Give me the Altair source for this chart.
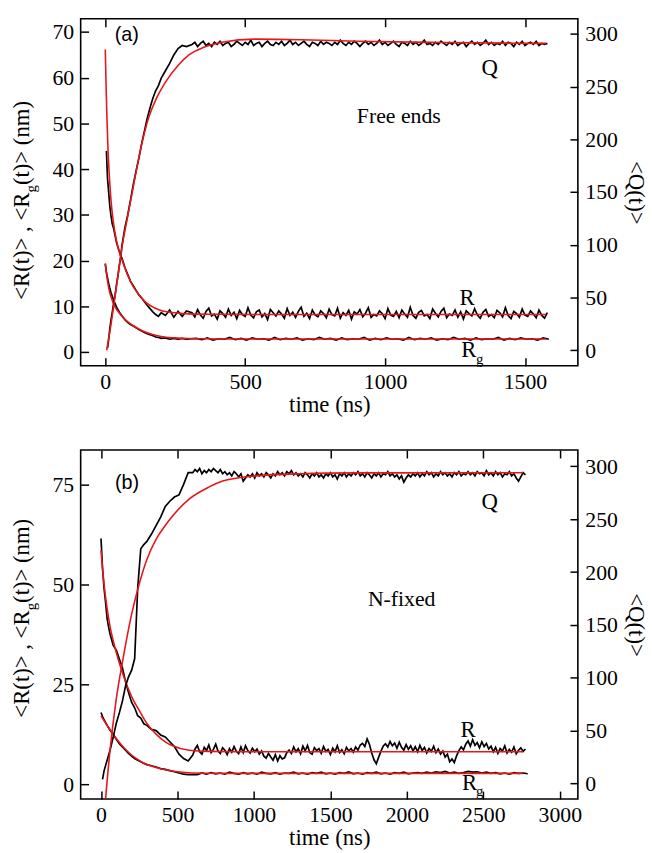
import altair as alt
import pandas as pd

SERIF = "Liberation Serif"
SANS = "Liberation Sans"
RED = "#e8161b"

# ---------------- Panel (a): Free ends ----------------
A_T_EARLY = [0, 4, 8, 12, 16, 20, 25, 30, 35, 40, 45, 50, 55, 60, 70, 80, 90, 100, 110, 120,
             130, 140, 150, 160, 170, 180, 190, 200, 215, 230, 245, 260, 275, 290]
A_Q_EARLY = [None, None, 2, 10, 20, 28, 36, 45, 52, 62, 70, 80, 88, 100, 116, 128, 142, 157, 170, 182,
             196, 208, 220, 230, 239, 246, 251, 258, 265, 272, 280, 286, 289, 288]
A_R_EARLY = [None, 44, 38, 35, 32, 30, 28, 27, 25.5, 24, 23, 22, 21, 20.5, 18.5, 17, 15.5, 14.5, 13.5, 12.5,
             11.8, 11, 10.2, 9.5, 8.8, 8.2, 7.8, 8.6, 8.0, 9.2, 7.6, 8.9, 7.8, 9.0]
A_RG_EARLY = [19.3, 17.5, 16.2, 15.0, 14.0, 13.1, 12.2, 11.3, 10.6, 9.9, 9.3, 8.8, 8.3, 7.9, 7.1, 6.5, 6.0, 5.7, 5.3, 4.9,
              4.6, 4.3, 4.0, 3.8, 3.6, 3.3, 3.2, 3.0, 3.1, 2.8, 3.0, 2.8, 3.0, 2.8]
# plateau samples: (start, step) of the time grid, then values
A_Q_LATE_GRID = (300, 10)
A_Q_LATE = [290, 292, 288, 291, 293, 289, 291, 288, 292, 290,
            293, 289, 291, 292, 288, 290, 293, 291, 289, 292,
            290, 294, 289, 291, 292, 288, 291, 293, 290, 289,
            292, 290, 293, 289, 291, 294, 290, 292, 289, 291,
            293, 290, 288, 292, 291, 289, 293, 290, 292, 291,
            289, 292, 290, 294, 291, 289, 292, 290, 293, 291,
            288, 291, 293, 290, 292, 289, 291, 294, 290, 292,
            289, 291, 293, 290, 288, 292, 291, 289, 293, 290,
            292, 289, 291, 294, 290, 291, 289, 292, 290, 293,
            291, 289, 292, 290, 293, 289, 291, 292, 288, 291,
            293, 290, 292, 289, 291, 294, 290, 292, 289, 291,
            290, 293, 289, 292, 291, 288, 292, 290, 293, 289,
            291, 292, 290, 293, 289, 291, 290, 291]
A_R_LATE_GRID = (300, 10)
A_R_LATE = [8.6, 7.7, 9.3, 8.1, 7.4, 8.9, 9.6, 7.9, 8.3, 7.2,
            9.0, 8.4, 7.6, 9.4, 8.0, 8.7, 7.3, 9.1, 8.2, 7.8,
            9.7, 8.1, 7.5, 8.8, 9.2, 7.7, 8.4, 7.1, 9.3, 8.6,
            7.9, 9.0, 8.3, 7.4, 9.5, 8.0, 8.7, 7.6, 8.9, 9.8,
            7.8, 8.5, 7.3, 9.2, 8.1, 7.7, 9.0, 8.4, 7.5, 9.4,
            8.2, 7.9, 9.6, 7.4, 8.6, 8.0, 9.1, 7.2, 8.8, 8.3,
            9.3, 7.7, 8.5, 9.7, 7.6, 8.2, 7.9, 9.0, 8.4, 7.3,
            9.5, 8.1, 7.8, 8.9, 7.5, 9.2, 8.3, 7.6, 9.8, 8.0,
            7.4, 8.7, 9.1, 7.9, 8.2, 7.3, 9.4, 8.5, 7.7, 8.9,
            9.6, 7.5, 8.3, 8.0, 9.2, 7.6, 8.8, 7.2, 9.0, 8.4,
            7.9, 9.5, 8.1, 7.4, 8.7, 9.3, 7.8, 8.2, 7.5, 9.1,
            8.6, 7.7, 9.7, 8.0, 7.3, 8.9, 8.4, 7.6, 9.4, 8.1,
            7.8, 9.0, 8.3, 7.5, 9.2, 8.0, 7.4, 8.6]
A_RG_LATE_GRID = (305, 20)
A_RG_LATE = [3.0, 2.7, 3.1, 2.6, 2.9, 2.8, 3.2, 2.7, 3.0, 2.6,
             3.1, 2.8, 2.9, 2.6, 3.2, 2.7, 3.0, 2.8, 3.1, 2.6,
             2.9, 2.7, 3.2, 2.8, 3.0, 2.6, 3.1, 2.7, 2.9, 2.8,
             3.2, 2.6, 3.0, 2.7, 3.1, 2.8, 2.9, 2.6, 3.2, 2.7,
             3.0, 2.8, 3.1, 2.6, 2.9, 2.7, 3.2, 2.8, 3.0, 2.6,
             3.1, 2.7, 2.9, 2.8, 3.2, 2.6, 3.0, 2.7, 3.1, 2.8,
             2.9, 2.6, 3.1, 2.8]
# fitted curves (red)
A_FIT_R_T = [0, 3, 6, 10, 15, 20, 28, 40, 58, 80, 100, 125, 146, 175, 205, 250, 300, 400, 700, 1575]
A_FIT_R = [66.2, 58, 51, 44, 38, 33.5, 28.8, 24.3, 20.5, 16.8, 14.3, 12.2, 10.8, 9.7, 9.0, 8.6, 8.35, 8.25, 8.2, 8.2]
A_FIT_RG_T = [0, 5, 10, 16, 25, 35, 52, 75, 99, 130, 160, 200, 250, 300, 400, 1575]
A_FIT_RG = [19.4, 16.8, 14.8, 13.0, 11.3, 9.9, 8.4, 6.9, 5.8, 4.7, 4.0, 3.4, 3.1, 2.95, 2.85, 2.85]
A_FIT_Q_T = [5, 10, 16, 30, 45, 58, 80, 100, 125, 152, 185, 217, 260, 299, 350, 417, 535, 700, 900, 1200, 1575]
A_FIT_Q = [0, 8, 17, 42, 70, 95, 127, 155, 189, 218, 240, 255, 270, 280, 287, 292, 295, 294.5, 293, 291.8, 291]

# ---------------- Panel (b): N-fixed ----------------
B_T_EARLY = [0, 10, 20, 30, 40, 50, 60, 80, 100, 120, 140, 160, 180, 200, 220, 240, 260, 280, 300, 330,
             360, 390, 420, 450, 480, 510, 540, 570]
B_Q_EARLY = [None, 4, 12, 17, 22, 27, 32, 44, 57, 67, 78, 92, 101, 107, 118, 185, 222, 226, 229, 236,
             244, 252, 262, 267, 271, 273, 283, 294]
B_R_EARLY = [61.5, 54, 49, 45.5, 41.5, 39.3, 37.5, 34.8, 33.6, 31.4, 29.2, 25.8, 23.0, 20.6, 19.2, 17.2, 16.6, 15.2, 14.8, 13.8,
             13.5, 12.4, 11.9, 10.7, 9.5, 7.6, 6.5, 5.9]
B_RG_EARLY = [18, 17, 16.2, 15.5, 14.8, 14.2, 13.6, 12.5, 11.3, 10.2, 9.4, 8.6, 7.8, 7.1, 6.5, 6.1, 5.7, 5.3, 5.0, 4.7,
              4.4, 4.0, 3.8, 3.5, 3.2, 2.9, 2.6, 2.5]
B_Q_LATE_GRID = (585, 15)
B_Q_LATE = [294, 297, 295, 298, 293, 296, 294, 297, 295, 298,
            296, 294, 297, 293, 295, 292, 294, 291, 295, 293,
            290, 293, 286, 289, 292, 290, 293, 289, 294, 291,
            293, 290, 294, 292, 289, 293, 291, 295, 292, 294,
            291, 295, 293, 296, 292, 294, 291, 293, 290, 294,
            292, 289, 293, 291, 294, 290, 292, 289, 293, 291,
            294, 290, 292, 288, 293, 291, 294, 290, 293, 291,
            294, 292, 295, 291, 293, 290, 294, 292, 289, 293,
            291, 294, 290, 293, 292, 295, 291, 293, 290, 292,
            288, 291, 285, 289, 292, 290, 293, 291, 294, 290,
            293, 291, 295, 292, 294, 290, 293, 291, 295, 292,
            294, 291, 293, 290, 294, 292, 295, 291, 293, 292,
            295, 292, 294, 291, 295, 293, 294, 291, 296, 292,
            294, 291, 295, 292, 294, 290, 293, 292, 295, 291,
            293, 289, 286, 290, 294, 292]
B_R_LATE_GRID = (585, 15)
B_R_LATE = [7.4, 8.9, 9.8, 8.2, 7.6, 9.3, 8.5, 9.9, 8.0, 8.8,
            10.1, 8.4, 7.8, 9.2, 8.6, 7.5, 9.0, 8.1, 9.5, 8.3,
            7.7, 9.4, 8.0, 9.7, 8.5, 7.9, 9.1, 8.2, 8.9, 7.6,
            8.4, 7.1, 6.6, 7.8, 6.9, 6.1, 7.5, 5.9, 7.2, 6.4,
            6.7, 8.0, 8.6, 7.8, 9.4, 8.2, 9.0, 7.7, 9.6, 8.4,
            9.8, 8.0, 7.6, 9.2, 8.5, 9.0, 7.8, 9.5, 8.3, 8.8,
            7.5, 9.1, 8.2, 9.7, 8.0, 8.7, 7.7, 9.3, 8.4, 9.0,
            8.1, 9.4, 8.6, 9.9, 10.3, 9.5, 11.4, 10.1, 7.9, 6.2,
            5.2, 6.8, 8.3, 9.6, 10.2, 9.4, 10.8, 9.7, 10.4, 9.1,
            10.6, 9.3, 8.6, 10.0, 8.8, 9.7, 8.4, 9.5, 8.2, 9.8,
            8.5, 9.3, 7.9, 9.0, 8.3, 9.6, 8.0, 8.9, 7.6, 8.4,
            6.9, 7.6, 5.7, 6.4, 5.5, 7.2, 8.5, 9.4, 8.7, 10.1,
            10.9, 9.6, 11.2, 9.8, 10.5, 9.2, 10.7, 9.5, 10.3, 8.9,
            9.6, 8.2, 9.3, 7.8, 9.0, 8.4, 9.7, 7.9, 8.8, 8.1,
            9.4, 7.7, 8.6, 9.2, 8.3, 8.9]
B_RG_LATE_GRID = (600, 30)
B_RG_LATE = [2.5, 2.9, 2.6, 3.0, 2.7, 2.9, 2.6, 3.1, 2.8, 2.6,
             3.0, 2.7, 2.9, 2.6, 3.1, 2.8, 2.7, 3.0, 2.6, 2.9,
             2.8, 3.1, 2.7, 2.9, 2.6, 3.0, 2.8, 3.1, 2.7, 2.9,
             2.6, 3.0, 2.8, 3.2, 2.7, 2.9, 2.6, 3.0, 2.8, 3.1,
             2.7, 2.9, 2.6, 3.0, 2.8, 3.1, 2.7, 2.9, 3.0, 2.8,
             3.1, 2.9, 3.2, 3.0, 3.3, 2.9, 3.1, 2.8, 3.0, 3.3,
             3.1, 3.2, 2.9, 3.1, 2.8, 3.0, 2.7, 2.9, 2.6, 3.0,
             2.8, 2.9, 2.7]
B_FIT_R_T = [0, 20, 40, 58, 100, 144, 200, 252, 300, 360, 420, 468, 576, 700, 1000, 2760]
B_FIT_R = [58.5, 50, 44, 39.8, 33, 27.5, 22, 18.4, 15.3, 12.6, 10.7, 9.7, 8.6, 8.3, 8.2, 8.2]
B_FIT_RG_T = [0, 50, 100, 150, 200, 252, 300, 360, 420, 500, 600, 800, 2760]
B_FIT_RG = [17.2, 14.2, 11.5, 9.2, 7.4, 6.0, 5.0, 4.3, 3.7, 3.2, 2.9, 2.8, 2.8]
B_FIT_Q_T = [20, 30, 58, 100, 144, 200, 252, 300, 360, 420, 468, 576, 700, 791, 1007, 1300, 1700, 2760]
B_FIT_Q = [-35, -15, 30, 80, 118, 160, 190, 212, 231, 244, 253, 269, 280, 286, 291, 293, 293.8, 294]

# ---------------- axes ----------------
A_XDOM, A_YDOM, A_QDOM = [-88, 1689], [-3.0, 72.9], [-14.7, 314.3]
B_XDOM, B_YDOM, B_QDOM = [-133, 3118], [-3.6, 83.6], [-14.6, 315.4]
A_XTICKS = [0, 500, 1000, 1500]
B_XTICKS = [0, 500, 1000, 1500, 2000, 2500, 3000]
A_YTICKS = [0, 10, 20, 30, 40, 50, 60, 70]
B_YTICKS = [0, 25, 50, 75]
Q_TICKS = [0, 50, 100, 150, 200, 250, 300]

# ---------------- annotations ----------------
A_LABELS_C = (["Q", "Free ends", "R"], [1374, 1049, 1293], [60.5, 50.1, 10.4], [23, 22, 23])
B_LABELS_C = (["Q", "N-fixed", "R"], [2542, 1966, 2400], [68.8, 44.6, 12.0], [23, 22, 23])
A_RG_LABEL = ([1272, 1325], [-1.1, -2.6])
B_RG_LABEL = ([2361, 2452], [-1.3, -2.8])
A_TAG = ("(a)", 34, 68.0)
B_TAG = ("(b)", 91, 73.8)

TICK = {"expr": "-8"}
W = 503
A_H, B_H = 351, 353

# Times metrics (per 1000 em) for laying out the composite left-axis title
TW = {"<": 564, "R": 667, "(": 333, "t": 278, ")": 333, ">": 564, " ": 250, ",": 250,
      "g": 500, "n": 500, "m": 778}


def twidth(s, size):
    return sum(TW[c] for c in s) * size / 1000.0


def grid(g, vals):
    return [g[0] + g[1] * (i + 1) for i in range(len(vals))]


def series(t, vals, name):
    return pd.DataFrame({"t": t, "v": vals, "s": name})


def make_panel(t_e, q_e, r_e, rg_e, qg, q_l, rgd, r_l, rgg, rg_l,
               fr_t, fr, frg_t, frg, fq_t, fq,
               xdom, ydom, qdom, xticks, yticks, H,
               labels_c, rg_label, tag, title_start):
    black_rr = pd.concat([
        series(t_e + grid(rgd, r_l), r_e + r_l, "R"),
        series(t_e + grid(rgg, rg_l), rg_e + rg_l, "Rg"),
    ])
    black_q = series(t_e + grid(qg, q_l), q_e + q_l, "Q")
    red_rr = pd.concat([series(fr_t, fr, "R"), series(frg_t, frg, "Rg")])
    red_q = series(fq_t, fq, "Q")

    xs = alt.Scale(domain=xdom, nice=False, zero=False)
    ys = alt.Scale(domain=ydom, nice=False, zero=False)
    qs = alt.Scale(domain=qdom, nice=False, zero=False)

    x_bot = alt.X("t:Q", scale=xs, axis=alt.Axis(orient="bottom", values=xticks, title="time (ns)", format="d",
                                                 titleFontWeight="normal",
                                                 tickSize=TICK, labelPadding=14, titlePadding=1))
    x_top = alt.X("t:Q", scale=xs, axis=alt.Axis(orient="top", values=xticks, labels=False, title=None,
                                                 tickSize=TICK))
    y_l = alt.Y("v:Q", scale=ys, axis=alt.Axis(orient="left", values=yticks, title=None, format="d",
                                               tickSize=TICK, labelPadding=15))
    y_r = alt.Y("v:Q", scale=qs, axis=alt.Axis(orient="right", values=Q_TICKS, title="<Q(t)>", format="d",
                                               titleFontWeight="normal",
                                               tickSize=TICK, labelPadding=15, titlePadding=6))

    a1 = alt.Chart(black_rr).mark_line(color="black", strokeWidth=1.7, clip=True).encode(
        x=x_bot, y=y_l, detail="s:N")
    a2 = alt.Chart(red_rr).mark_line(color=RED, strokeWidth=1.6, clip=True, interpolate="monotone").encode(
        x=x_bot, y=y_l, detail="s:N")

    lab = pd.DataFrame({"label": labels_c[0], "t": labels_c[1], "v": labels_c[2], "fs": labels_c[3]})
    t_c = alt.Chart(lab).mark_text(font=SERIF, color="black", baseline="alphabetic", align="center").encode(
        x=x_bot, y=y_l, text="label:N", size=alt.Size("fs:Q", scale=None, legend=None))
    rg_df = pd.DataFrame({"label": ["R"], "t": [rg_label[0][0]], "v": [rg_label[1][0]]})
    g_df = pd.DataFrame({"label": ["g"], "t": [rg_label[0][1]], "v": [rg_label[1][1]]})
    t_r = alt.Chart(rg_df).mark_text(font=SERIF, fontSize=23, color="black", baseline="alphabetic",
                                     align="left").encode(x=x_bot, y=y_l, text="label:N")
    t_g = alt.Chart(g_df).mark_text(font=SERIF, fontSize=15, color="black", baseline="alphabetic",
                                    align="left").encode(x=x_bot, y=y_l, text="label:N")
    tag_df = pd.DataFrame({"label": [tag[0]], "t": [tag[1]], "v": [tag[2]]})
    t_tag = alt.Chart(tag_df).mark_text(font=SANS, fontSize=20, color="black", baseline="alphabetic",
                                        align="left").encode(x=x_bot, y=y_l, text="label:N")

    # composite left axis title  <R(t)> , <R_g (t)>  (nm)
    p1, p2, p3 = "<R(t)> , <R", "g", " (t)>  (nm)"
    w1, w2 = twidth(p1, 23), twidth(p2, 15)
    tparts = []
    for txt, fs, dx, dy in [(p1, 23, -52.4, 0), (p2, 15, -45.4, w1), (p3, 23, -52.4, w1 + w2)]:
        tparts.append(
            alt.Chart(pd.DataFrame({"label": [txt]})).mark_text(
                font=SERIF, fontSize=fs, color="black", angle=270, align="left", baseline="alphabetic"
            ).encode(x=alt.value(dx), y=alt.value(title_start - dy), text="label:N")
        )

    layer_a = alt.layer(a1, a2, t_c, t_r, t_g, t_tag, *tparts)

    b1 = alt.Chart(black_q).mark_line(color="black", strokeWidth=1.7, clip=True).encode(x=x_top, y=y_r)
    b2 = alt.Chart(red_q).mark_line(color=RED, strokeWidth=1.6, clip=True, interpolate="monotone").encode(
        x=x_top, y=y_r)
    layer_b = alt.layer(b1, b2)

    return alt.layer(layer_a, layer_b).resolve_scale(y="independent").properties(width=W, height=H)


panel_a = make_panel(A_T_EARLY, A_Q_EARLY, A_R_EARLY, A_RG_EARLY,
                     A_Q_LATE_GRID, A_Q_LATE, A_R_LATE_GRID, A_R_LATE, A_RG_LATE_GRID, A_RG_LATE,
                     A_FIT_R_T, A_FIT_R, A_FIT_RG_T, A_FIT_RG, A_FIT_Q_T, A_FIT_Q,
                     A_XDOM, A_YDOM, A_QDOM, A_XTICKS, A_YTICKS, A_H,
                     A_LABELS_C, A_RG_LABEL, A_TAG, 284.3)
panel_b = make_panel(B_T_EARLY, B_Q_EARLY, B_R_EARLY, B_RG_EARLY,
                     B_Q_LATE_GRID, B_Q_LATE, B_R_LATE_GRID, B_R_LATE, B_RG_LATE_GRID, B_RG_LATE,
                     B_FIT_R_T, B_FIT_R, B_FIT_RG_T, B_FIT_RG, B_FIT_Q_T, B_FIT_Q,
                     B_XDOM, B_YDOM, B_QDOM, B_XTICKS, B_YTICKS, B_H,
                     B_LABELS_C, B_RG_LABEL, B_TAG, 270.7)

chart = alt.vconcat(panel_a, panel_b, spacing=85.3, bounds="flush").properties(
    padding={"left": 9.6, "top": 12, "right": 5, "bottom": 5},
    background="white",
).configure_view(
    stroke="black", strokeWidth=1.6
).configure_axis(
    domain=False, grid=False,
    labelFont=SERIF, labelFontSize=22, labelColor="black",
    titleFont=SERIF, titleFontSize=23, titleFontWeight="normal", titleColor="black",
    tickColor="black", tickWidth=1.5,
)

chart.save("out.html", embed_options={"renderer": "svg", "actions": False})
